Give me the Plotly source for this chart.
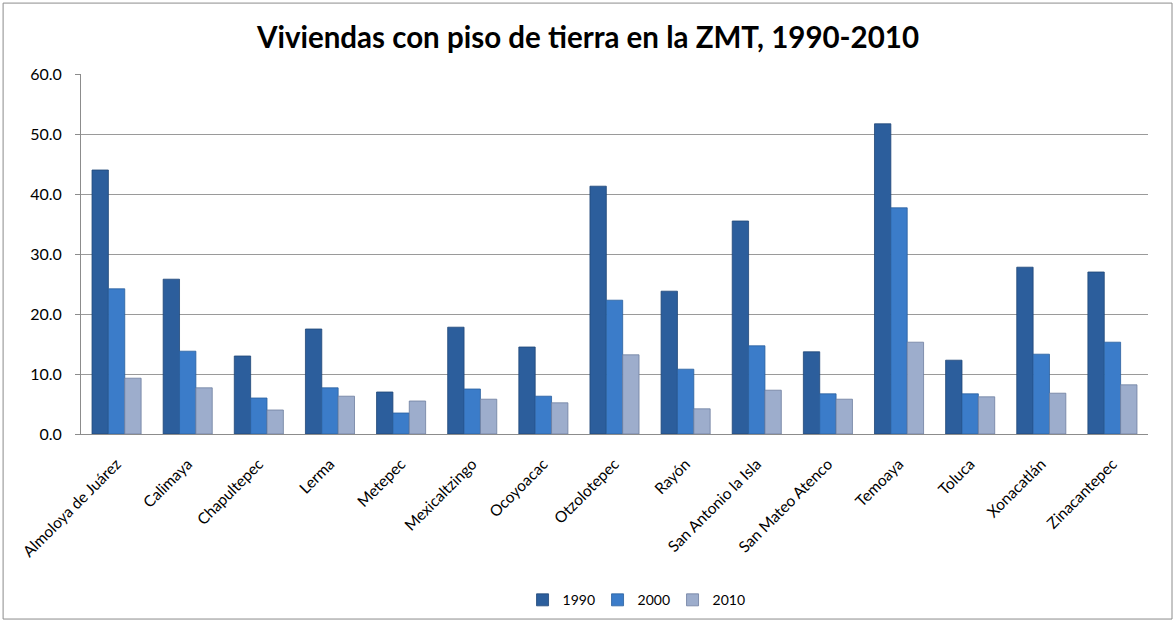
import plotly.graph_objects as go

municipios = ["Almoloya de Juárez", "Calimaya", "Chapultepec", "Lerma", "Metepec",
              "Mexicaltzingo", "Ocoyoacac", "Otzolotepec", "Rayón", "San Antonio la Isla",
              "San Mateo Atenco", "Temoaya", "Toluca", "Xonacatlán", "Zinacantepec"]

v1990 = [44.0, 25.8, 13.0, 17.5, 7.0, 17.8, 14.5, 41.3, 23.8, 35.5, 13.7, 51.7, 12.3, 27.8, 27.0]
v2000 = [24.2, 13.8, 6.0, 7.7, 3.5, 7.5, 6.3, 22.3, 10.8, 14.7, 6.7, 37.7, 6.7, 13.3, 15.3]
v2010 = [9.3, 7.7, 4.0, 6.3, 5.5, 5.8, 5.2, 13.2, 4.2, 7.3, 5.8, 15.3, 6.2, 6.8, 8.2]

series = [("1990", v1990, "#2c5e9c", "#1f4677"),
          ("2000", v2000, "#3b7cc9", "#2a5f9e"),
          ("2010", v2010, "#9dadcc", "#6f7f9f")]

fig = go.Figure()
for nombre, vals, color, borde in series:
    fig.add_trace(go.Bar(
        x=municipios, y=vals, name=nombre,
        marker=dict(color=color, line=dict(color=borde, width=0.8)),
    ))

fig.update_layout(
    barmode="group",
    bargap=0.31,
    bargroupgap=0,
    width=1176, height=622,
    margin=dict(l=81, r=28, t=74, b=188),
    paper_bgcolor="white",
    plot_bgcolor="white",
    font=dict(family="Lato, 'Open Sans', sans-serif", size=14, color="black"),
    title=dict(text="<b>Viviendas con piso de tierra en la ZMT, 1990-2010</b>",
               x=0.5, xanchor="center", y=0.94, yanchor="middle",
               font=dict(size=29.5, color="black")),
    legend=dict(orientation="h", x=0.54, xanchor="center", y=0.035, yanchor="middle",
                xref="container", yref="container",
                font=dict(size=14), itemwidth=30, traceorder="normal",
                entrywidth=30, entrywidthmode="pixels", bgcolor="rgba(0,0,0,0)"),
    xaxis=dict(tickangle=-45, showgrid=False, showline=True, linecolor="#8c8c8c",
               linewidth=1, ticks="", tickfont=dict(size=15.5), ticklabelstandoff=14,
               automargin=False),
    yaxis=dict(range=[0, 60], dtick=10, tickformat=".1f", showgrid=True,
               gridcolor="#9a9a9a", gridwidth=1, showline=True, linecolor="#8c8c8c",
               linewidth=1, ticks="outside", ticklen=5, tickcolor="#8c8c8c",
               zeroline=False, tickfont=dict(size=16), ticklabelstandoff=10,
               automargin=False),
)

# marco exterior del gráfico
fig.add_shape(type="rect", xref="paper", yref="paper",
              x0=-0.073, x1=1.0225, y0=-0.514, y1=1.197,
              line=dict(color="#8c8c8c", width=1), fillcolor="rgba(0,0,0,0)")

fig.write_html("out.html", config={"displayModeBar": False},
               post_script="document.body.style.margin='0';")
